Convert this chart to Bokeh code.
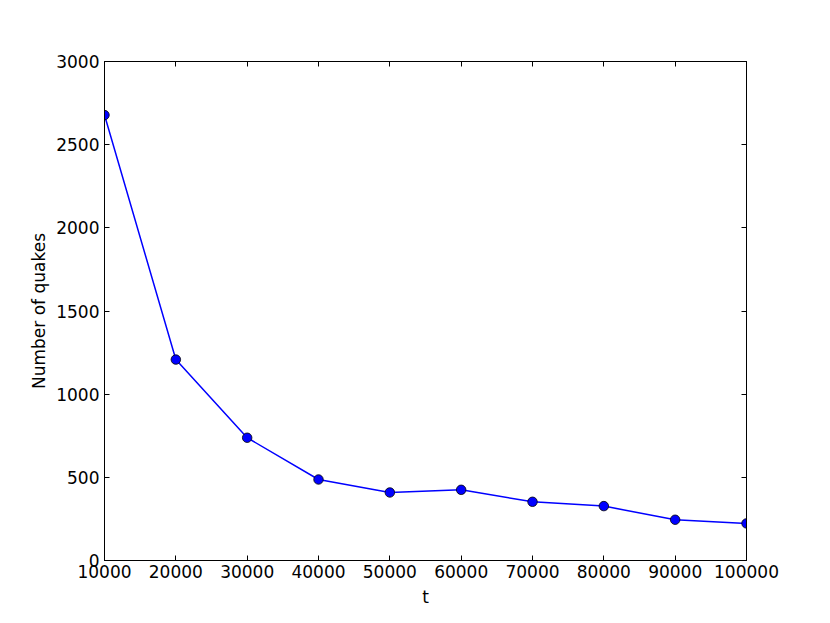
from bokeh.plotting import figure
from bokeh.models import LinearAxis, FixedTicker, BasicTickFormatter, Range1d
from bokeh.embed import file_html
from bokeh.resources import INLINE

t_values = [10000, 20000, 30000, 40000, 50000, 60000, 70000, 80000, 90000, 100000]
quakes = [2678, 1208, 738, 487, 409, 425, 353, 327, 245, 223]
x_ticks = [10000, 20000, 30000, 40000, 50000, 60000, 70000, 80000, 90000, 100000]
y_ticks = [0, 500, 1000, 1500, 2000, 2500, 3000]

FONT = "DejaVu Sans"
FS = "17px"

p = figure(width=822, height=615, output_backend="svg", toolbar_location=None,
           x_range=Range1d(10000, 100000), y_range=Range1d(0, 3000),
           min_border_left=104, min_border_top=61, min_border_right=76, min_border_bottom=55,
           frame_width=642, frame_height=499)
p.grid.visible = False
p.outline_line_color = "black"
p.outline_line_width = 1
p.background_fill_color = "white"
p.border_fill_color = "white"

def style(ax, ticks, labels=True):
    ax.ticker = FixedTicker(ticks=ticks)
    ax.formatter = BasicTickFormatter(use_scientific=False)
    ax.major_tick_in = 5
    ax.major_tick_out = 0
    ax.minor_tick_line_color = None
    ax.axis_line_color = "black"
    ax.major_tick_line_color = "black"
    ax.major_label_text_font = FONT
    ax.major_label_text_font_size = FS
    ax.major_label_text_color = "black"
    ax.axis_label_text_font = FONT
    ax.axis_label_text_font_size = FS
    ax.axis_label_text_font_style = "normal"
    ax.axis_label_text_color = "black"
    if not labels:
        ax.major_label_text_font_size = "0px"
        ax.major_label_text_color = None

style(p.xaxis[0], x_ticks)
style(p.yaxis[0], y_ticks)
p.xaxis[0].axis_label = "t"
p.yaxis[0].axis_label = "Number of quakes"
p.xaxis[0].major_label_standoff = 4
p.yaxis[0].major_label_standoff = 5
p.xaxis[0].axis_label_standoff = 6
p.yaxis[0].axis_label_standoff = 4

top = LinearAxis()
style(top, x_ticks, labels=False)
p.add_layout(top, "above")
right = LinearAxis()
style(right, y_ticks, labels=False)
p.add_layout(right, "right")

p.line(t_values, quakes, line_color="#0000ff", line_width=1.5)
p.scatter(t_values, quakes, size=9.5, fill_color="#0000ff", line_color="black", line_width=0.8)

open("out.html", "w").write(file_html(p, INLINE))
